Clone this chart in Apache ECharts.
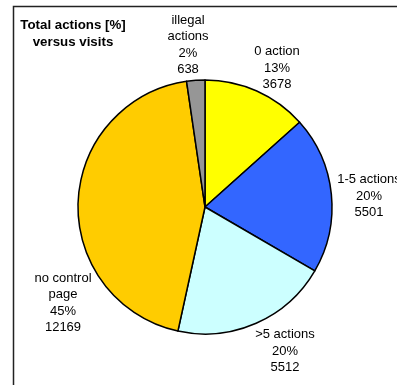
<!DOCTYPE html>
<html>
<head>
<meta charset="utf-8">
<script src="https://cdn.jsdelivr.net/npm/echarts@6/dist/echarts.min.js"></script>
<style>
  html, body { margin: 0; padding: 0; background: #fff; }
  #chart { width: 397px; height: 385px; }
</style>
</head>
<body>
<div id="chart"></div>
<script>
// Visit categories, drawn clockwise from 12 o'clock
var categories = ['0 action', '1-5 actions', '>5 actions', 'no control\npage', 'illegal\nactions'];
var visits = [3678, 5501, 5512, 12169, 638];
var percentLabels = ['13%', '20%', '20%', '45%', '2%'];
var sliceColors = ['#FFFF00', '#3366FF', '#CCFFFF', '#FFCC00', '#969696'];

// Anchor points (centre of each label block)
var labelAnchors = [[277, 68], [369, 196], [285, 351], [63, 303], [188, 45]];

var chart = echarts.init(document.getElementById('chart'), null, { renderer: 'canvas' });

var data = categories.map(function (name, i) {
  return {
    name: name,
    value: visits[i],
    pct: percentLabels[i],
    itemStyle: { color: sliceColors[i] }
  };
});

chart.setOption({
  animation: false,
  backgroundColor: '#ffffff',
  graphic: [
    {
      type: 'polyline',
      shape: { points: [[13.5, 400], [13.5, 6.5], [400, 6.5]] },
      style: { stroke: '#222', lineWidth: 1.5, fill: null },
      silent: true
    },
    {
      type: 'text',
      silent: true,
      style: {
        text: 'Total actions [%]\nversus visits',
        x: 73,
        y: 17,
        align: 'center',
        verticalAlign: 'top',
        fontFamily: 'Liberation Sans, Arial, sans-serif',
        fontWeight: 'bold',
        fontSize: 13.3,
        lineHeight: 17,
        fill: '#000'
      }
    }
  ],
  series: [{
    type: 'pie',
    center: [205, 207],
    radius: [0, 127],
    startAngle: 90,
    clockwise: true,
    avoidLabelOverlap: false,
    itemStyle: { borderColor: '#000', borderWidth: 1.5 },
    emphasis: { disabled: true },
    label: {
      show: true,
      position: 'outside',
      formatter: function (p) {
        return p.name + '\n' + p.data.pct + '\n' + p.value;
      },
      fontFamily: 'Liberation Sans, Arial, sans-serif',
      fontSize: 13,
      lineHeight: 16.5,
      color: '#000',
      align: 'center'
    },
    labelLine: { show: false },
    labelLayout: function (params) {
      var a = labelAnchors[params.dataIndex];
      return { x: a[0], y: a[1], align: 'center', verticalAlign: 'middle' };
    },
    data: data
  }]
});
</script>
</body>
</html>
